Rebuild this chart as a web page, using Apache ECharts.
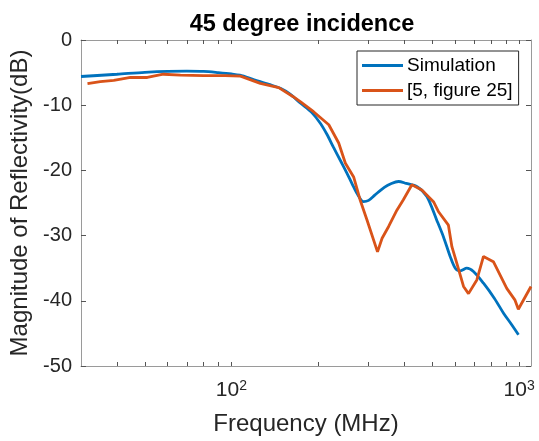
<!DOCTYPE html>
<html>
<head>
<meta charset="utf-8">
<script src="https://cdn.jsdelivr.net/npm/echarts@6/dist/echarts.min.js"></script>
<style>html,body{margin:0;padding:0;background:#fff}#c{width:539px;height:441px}</style>
</head>
<body>
<div id="c"></div>
<script>
var simFreq = [30, 40, 50, 60, 70, 80, 90, 100, 107, 120, 135, 148, 160, 174, 190, 204, 215, 226, 240, 252, 263, 273, 288, 300, 315, 340, 360, 381, 405, 442, 478, 517, 546, 576, 600, 625, 658, 694, 752, 820, 883, 940, 995];
var simVal  = [-5.6, -5.25, -4.95, -4.8, -4.78, -4.82, -5.0, -5.2, -5.4, -6.1, -6.8, -7.4, -8.3, -9.7, -11.1, -12.8, -14.5, -16.4, -18.6, -20.4, -22.1, -23.5, -24.8, -24.6, -23.8, -22.6, -22.0, -21.7, -22.0, -22.5, -24.0, -27.6, -30.2, -33.2, -35.0, -35.4, -35.0, -35.5, -37.3, -39.6, -41.9, -43.6, -45.2];
var refFreq = [31.6, 35, 39, 44.6, 51, 58, 66.5, 80, 95, 107.5, 126, 146, 164, 174, 193, 218, 236, 249, 266, 280, 296, 322, 334, 352, 376, 396, 424, 459, 504, 524, 568, 584, 608, 641, 667, 713, 752, 814, 906, 968, 994, 1100];
var refVal  = [-6.7, -6.4, -6.2, -5.75, -5.75, -5.25, -5.4, -5.45, -5.45, -5.55, -6.65, -7.3, -8.7, -9.5, -11.0, -13.0, -15.8, -18.9, -21.0, -24.5, -27.6, -32.5, -30.4, -28.6, -26.1, -24.5, -22.2, -23.0, -24.8, -26.3, -28.4, -31.7, -34.3, -37.8, -38.9, -36.8, -33.2, -34.0, -38.1, -39.9, -41.3, -37.8];
var seriesNames = ['Simulation', '[5, figure 25]'];
var xTickValues = [40, 50, 60, 70, 80, 90, 100, 200, 300, 400, 500, 600, 700, 800, 900, 1000];
var xLabelValues = [100, 1000];

function pairs(xs, ys) { return xs.map(function (x, i) { return [x, ys[i]]; }); }

var axisColor = '#9a9a9a';
var textColor = '#262626';
var FONT = 'Liberation Sans, Arial, Helvetica, sans-serif';

function xAxisBase(pos, showLabel) {
  return {
    type: 'log', logBase: 10, min: 30, max: 1100, position: pos,
    axisLine: { show: true, onZero: false, lineStyle: { color: axisColor, width: 1 } },
    axisTick: { show: true, inside: true, length: 4, customValues: xTickValues, lineStyle: { color: '#555' } },
    splitLine: { show: false }, minorTick: { show: false },
    axisLabel: showLabel ? {
      show: true, customValues: xLabelValues, margin: 13, color: textColor, fontFamily: FONT,
      formatter: function (v) { return '{b|10}{s|' + Math.round(Math.log10(v)) + '}'; },
      rich: {
        b: { fontSize: 21, color: textColor, fontFamily: FONT },
        s: { fontSize: 14, color: textColor, fontFamily: FONT, verticalAlign: 'top', padding: [0, 0, 8, 0] }
      }
    } : { show: false },
    name: showLabel ? 'Frequency (MHz)' : '', nameLocation: 'middle', nameGap: 46,
    nameTextStyle: { fontSize: 24, color: textColor, fontFamily: FONT }
  };
}
function yAxisBase(pos, showLabel) {
  return {
    type: 'value', min: -50, max: 0, interval: 10, position: pos,
    axisLine: { show: true, onZero: false, lineStyle: { color: axisColor, width: 1 } },
    axisTick: { show: true, inside: true, length: 5, lineStyle: { color: '#555' } },
    splitLine: { show: false },
    axisLabel: { show: showLabel, fontSize: 20, color: textColor, fontFamily: FONT, margin: 9 },
    name: showLabel ? 'Magnitude of Reflectivity(dB)' : '', nameLocation: 'middle', nameGap: 47,
    nameTextStyle: { fontSize: 24, color: textColor, fontFamily: FONT }
  };
}

var chart = echarts.init(document.getElementById('c'), null, { renderer: 'canvas' });
chart.setOption({
  animation: false,
  backgroundColor: '#fff',
  title: { text: '45 degree incidence', left: 297, textAlign: 'center', top: 8,
    textStyle: { fontSize: 23.5, fontWeight: 'bold', color: '#000', fontFamily: FONT } },
  grid: { left: 81, right: 8, top: 40, bottom: 75, containLabel: false },
  xAxis: [xAxisBase('bottom', true), xAxisBase('top', false)],
  yAxis: [yAxisBase('left', true), yAxisBase('right', false)],
  legend: {
    orient: 'vertical', left: 357, top: 51, padding: [5, 6, 5, 5],
    borderColor: '#262626', borderWidth: 1, backgroundColor: '#fff',
    icon: 'rect', itemWidth: 41, itemHeight: 3, itemGap: 6,
    textStyle: { fontSize: 19, color: '#000', fontFamily: FONT, padding: [0, 0, 0, -1] },
    data: seriesNames
  },
  series: [
    { name: seriesNames[0], type: 'line', data: pairs(simFreq, simVal), symbol: 'none', smooth: 0.3,
      lineStyle: { color: '#0072BD', width: 2.8 }, itemStyle: { color: '#0072BD' } },
    { name: seriesNames[1], type: 'line', data: pairs(refFreq, refVal), symbol: 'none',
      lineStyle: { color: '#D95319', width: 2.8 }, itemStyle: { color: '#D95319' } }
  ]
});
</script>
</body>
</html>
